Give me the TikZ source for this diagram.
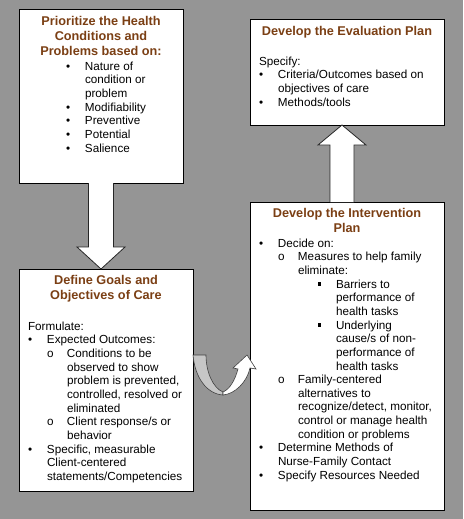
\documentclass[tikz,border=0pt]{standalone}
\usepackage{fontspec}
\setmainfont{Liberation Sans}
\usepackage{tikz}
\definecolor{SlideGray}{HTML}{959595}
\definecolor{TitleBrown}{HTML}{7B3F14}
\definecolor{TwistGray}{HTML}{C6C6C6}
\usetikzlibrary{calc}
\usetikzlibrary{positioning}

\newcommand{\lvone}{\makebox[19pt][l]{\textbullet}}
\newcommand{\lvtwo}{\makebox[19pt]{}\makebox[20pt][l]{o}}
\newcommand{\lvthree}{\makebox[58pt]{}\makebox[19pt][l]{\hspace{0.5pt}\rule[2.3pt]{3.4pt}{3.4pt}}}
\newcommand{\ind}[1]{\makebox[#1]{}}

\begin{document}
\begin{tikzpicture}[x=1pt, y=-1pt,
    font=\fontsize{11.7}{13.65}\selectfont,
    inner sep=0pt,
    outer sep=0pt,
    box/.style={shape=rectangle, draw=black, line width=0.9pt, fill=white, anchor=north west},
    boxtitle/.style={font=\fontsize{12.7}{15}\selectfont\bfseries, text=TitleBrown, align=center, anchor=north},
    boxtext/.style={align=left, anchor=north west},
    blockarrow/.style={draw=black!85, line width=0.8pt, fill=white, line join=miter},
    twistback/.style={draw=black!75, line width=0.6pt, fill=TwistGray},
    twistfront/.style={draw=black!75, line width=0.6pt, fill=white}]

    \path [use as bounding box, fill=SlideGray] (0,0) rectangle (463,519);

    \node[name=prio,
      box,
      minimum width=164pt,
      minimum height=174pt] at (19,9) {};

    \node[name=goals,
      box,
      minimum width=174pt,
      minimum height=222pt,
      below right=86pt and 0pt of prio.south west] {};

    \node[name=evalplan,
      box,
      minimum width=194pt,
      minimum height=106pt,
      below right=10pt and 67pt of prio.north east] {};

    \node[name=interv,
      box,
      minimum width=194pt,
      minimum height=308pt,
      below right=77pt and 0pt of evalplan.south west] {};

    \node[name=priotitle, boxtitle, below=7.5pt of prio.north]
      {Prioritize the Health\\Conditions and\\Problems based on:};
    \node[name=priotext, boxtext, below right=52.7pt and 47pt of prio.north west]
      {\lvone Nature of\\\ind{19pt}condition or\\\ind{19pt}problem\\
       \lvone Modifiability\\\lvone Preventive\\\lvone Potential\\\lvone Salience};

    \node[name=goalstitle, boxtitle, below=6.5pt of goals.north]
      {Define Goals and\\Objectives of Care};
    \node[name=goalstext, boxtext, below right=52.7pt and 9pt of goals.north west]
      {Formulate:\\
       \lvone Expected Outcomes:\\
       \lvtwo Conditions to be\\
       \ind{39pt}observed to show\\
       \ind{39pt}problem is prevented,\\
       \ind{39pt}controlled, resolved or\\
       \ind{39pt}eliminated\\
       \lvtwo Client response/s or\\
       \ind{39pt}behavior\\
       \lvone Specific, measurable\\
       \ind{19pt}Client-centered\\
       \ind{19pt}statements/Competencies};

    \node[name=evaltitle, boxtitle, below=7.5pt of evalplan.north]
      {Develop the Evaluation Plan};
    \node[name=evaltext, boxtext, below right=37.7pt and 9pt of evalplan.north west]
      {Specify:\\
       \lvone Criteria/Outcomes based on\\
       \ind{19pt}objectives of care\\
       \lvone Methods/tools};

    \node[name=intervtitle, boxtitle, below=6.5pt of interv.north]
      {Develop the Intervention\\Plan};
    \node[name=intervtext, boxtext, below right=36.7pt and 9pt of interv.north west]
      {\lvone Decide on:\\
       \lvtwo Measures to help family\\
       \ind{39pt}eliminate:\\
       \lvthree Barriers to\\
       \ind{77pt}performance of\\
       \ind{77pt}health tasks\\
       \lvthree Underlying\\
       \ind{77pt}cause/s of non-\\
       \ind{77pt}performance of\\
       \ind{77pt}health tasks\\
       \lvtwo Family-centered\\
       \ind{39pt}alternatives to\\
       \ind{39pt}recognize/detect, monitor,\\
       \ind{39pt}control or manage health\\
       \ind{39pt}condition or problems\\
       \lvone Determine Methods of\\
       \ind{19pt}Nurse-Family Contact\\
       \lvone Specify Resources Needed};

    % prio -> goals
    \coordinate (downtip) at (prio.south |- goals.north);
    \draw[blockarrow] ($(prio.south)+(-12.5,0)$) -- ($(downtip)+(-12.5,-22)$)
      -- ($(downtip)+(-24,-22)$) -- (downtip) -- ($(downtip)+(24,-22)$)
      -- ($(downtip)+(12.5,-22)$) -- ($(prio.south)+(12.5,0)$);

    % interv -> evalplan
    \coordinate (uptip) at ($(evalplan.south)+(-5,0)$);
    \coordinate (upbase) at (uptip |- interv.north);
    \draw[blockarrow] ($(upbase)+(-12,0)$) -- ($(uptip)+(-12,20)$)
      -- ($(uptip)+(-24,20)$) -- (uptip) -- ($(uptip)+(24,20)$)
      -- ($(uptip)+(12,20)$) -- ($(upbase)+(12,0)$);

    % goals -> interv
    \coordinate (turnstart) at ($(goals.north east)+(0,86)$);
    \begin{scope}[shift={(turnstart)}]
      \draw[twistback] (0,0) .. controls (2,23) and (14,39) .. (30,40)
        -- (30,37) .. controls (20,33) and (13,17) .. (13,0) -- cycle;
      \draw[twistfront] (30,40) .. controls (42,39) and (54,27) .. (57,13)
        -- (63,14) -- (54,0) -- (40,13) -- (45,14)
        .. controls (42,25) and (37,34) .. (30,37) -- cycle;
    \end{scope}
\end{tikzpicture}
\end{document}
